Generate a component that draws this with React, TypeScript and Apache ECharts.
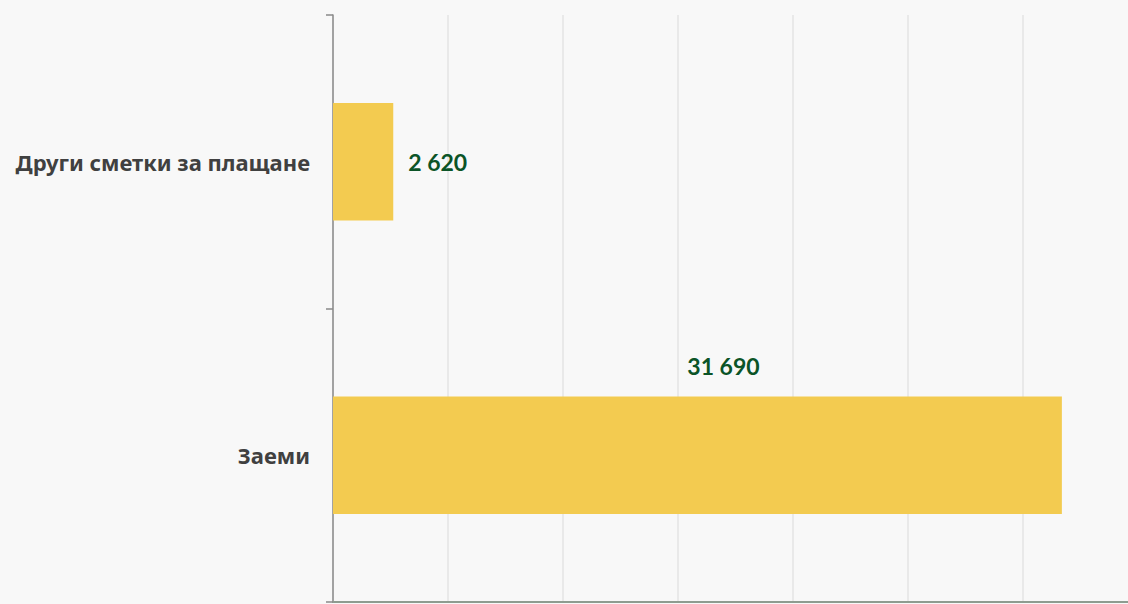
import React, { useEffect, useRef } from "react";
import * as echarts from "echarts";

const categories = ["Други сметки за плащане", "Заеми"];
const values = [2620, 31690];
const axisMax = 35000;
const axisInterval = 5000;

const fmt = (v: number) => String(v).replace(/\B(?=(\d{3})+(?!\d))/g, " ");

export default function App() {
  const ref = useRef<HTMLDivElement>(null);
  useEffect(() => {
    const chart = echarts.init(ref.current!, null, { renderer: "svg" });
    chart.setOption({
      animation: false,
      backgroundColor: "#f8f8f8",
      grid: { left: 333, right: 0, top: 15, bottom: 2, containLabel: false },
      xAxis: {
        type: "value",
        min: 0,
        max: axisMax,
        interval: axisInterval,
        axisLabel: { show: false },
        axisTick: { show: false },
        axisLine: { show: true, lineStyle: { color: "#8e9c90", width: 2 } },
        splitLine: { show: true, lineStyle: { color: "#e4e4e4", width: 1.5 } },
      },
      yAxis: {
        type: "category",
        data: categories,
        inverse: true,
        axisLine: { show: true, lineStyle: { color: "#8a8a8a", width: 1.5 } },
        axisTick: { show: true, length: 7, lineStyle: { color: "#8a8a8a", width: 1.5 } },
        axisLabel: {
          margin: 23,
          fontFamily: "Noto Sans",
          fontWeight: "bold",
          fontSize: 22,
          color: "#404040",
        },
        splitLine: { show: false },
      },
      series: [
        {
          type: "bar",
          barWidth: "40%",
          itemStyle: { color: "#f3cb50" },
          data: values.map((v, i) => ({
            value: v,
            label:
              i === 0
                ? { show: true, position: "right", distance: 15 }
                : { show: true, position: "top", distance: 19, offset: [26, 0] },
          })),
          label: {
            show: true,
            fontFamily: "Lato",
            fontWeight: "bold",
            fontSize: 23,
            color: "#0b5427",
            formatter: (p: any) => fmt(p.value),
          },
        },
      ],
    });
    return () => chart.dispose();
  }, []);
  return (
    <div style={{ position: "fixed", left: 0, top: 0, width: 1128, height: 604, overflow: "hidden" }}>
      <div ref={ref} style={{ width: 1138, height: 604 }} />
    </div>
  );
}
